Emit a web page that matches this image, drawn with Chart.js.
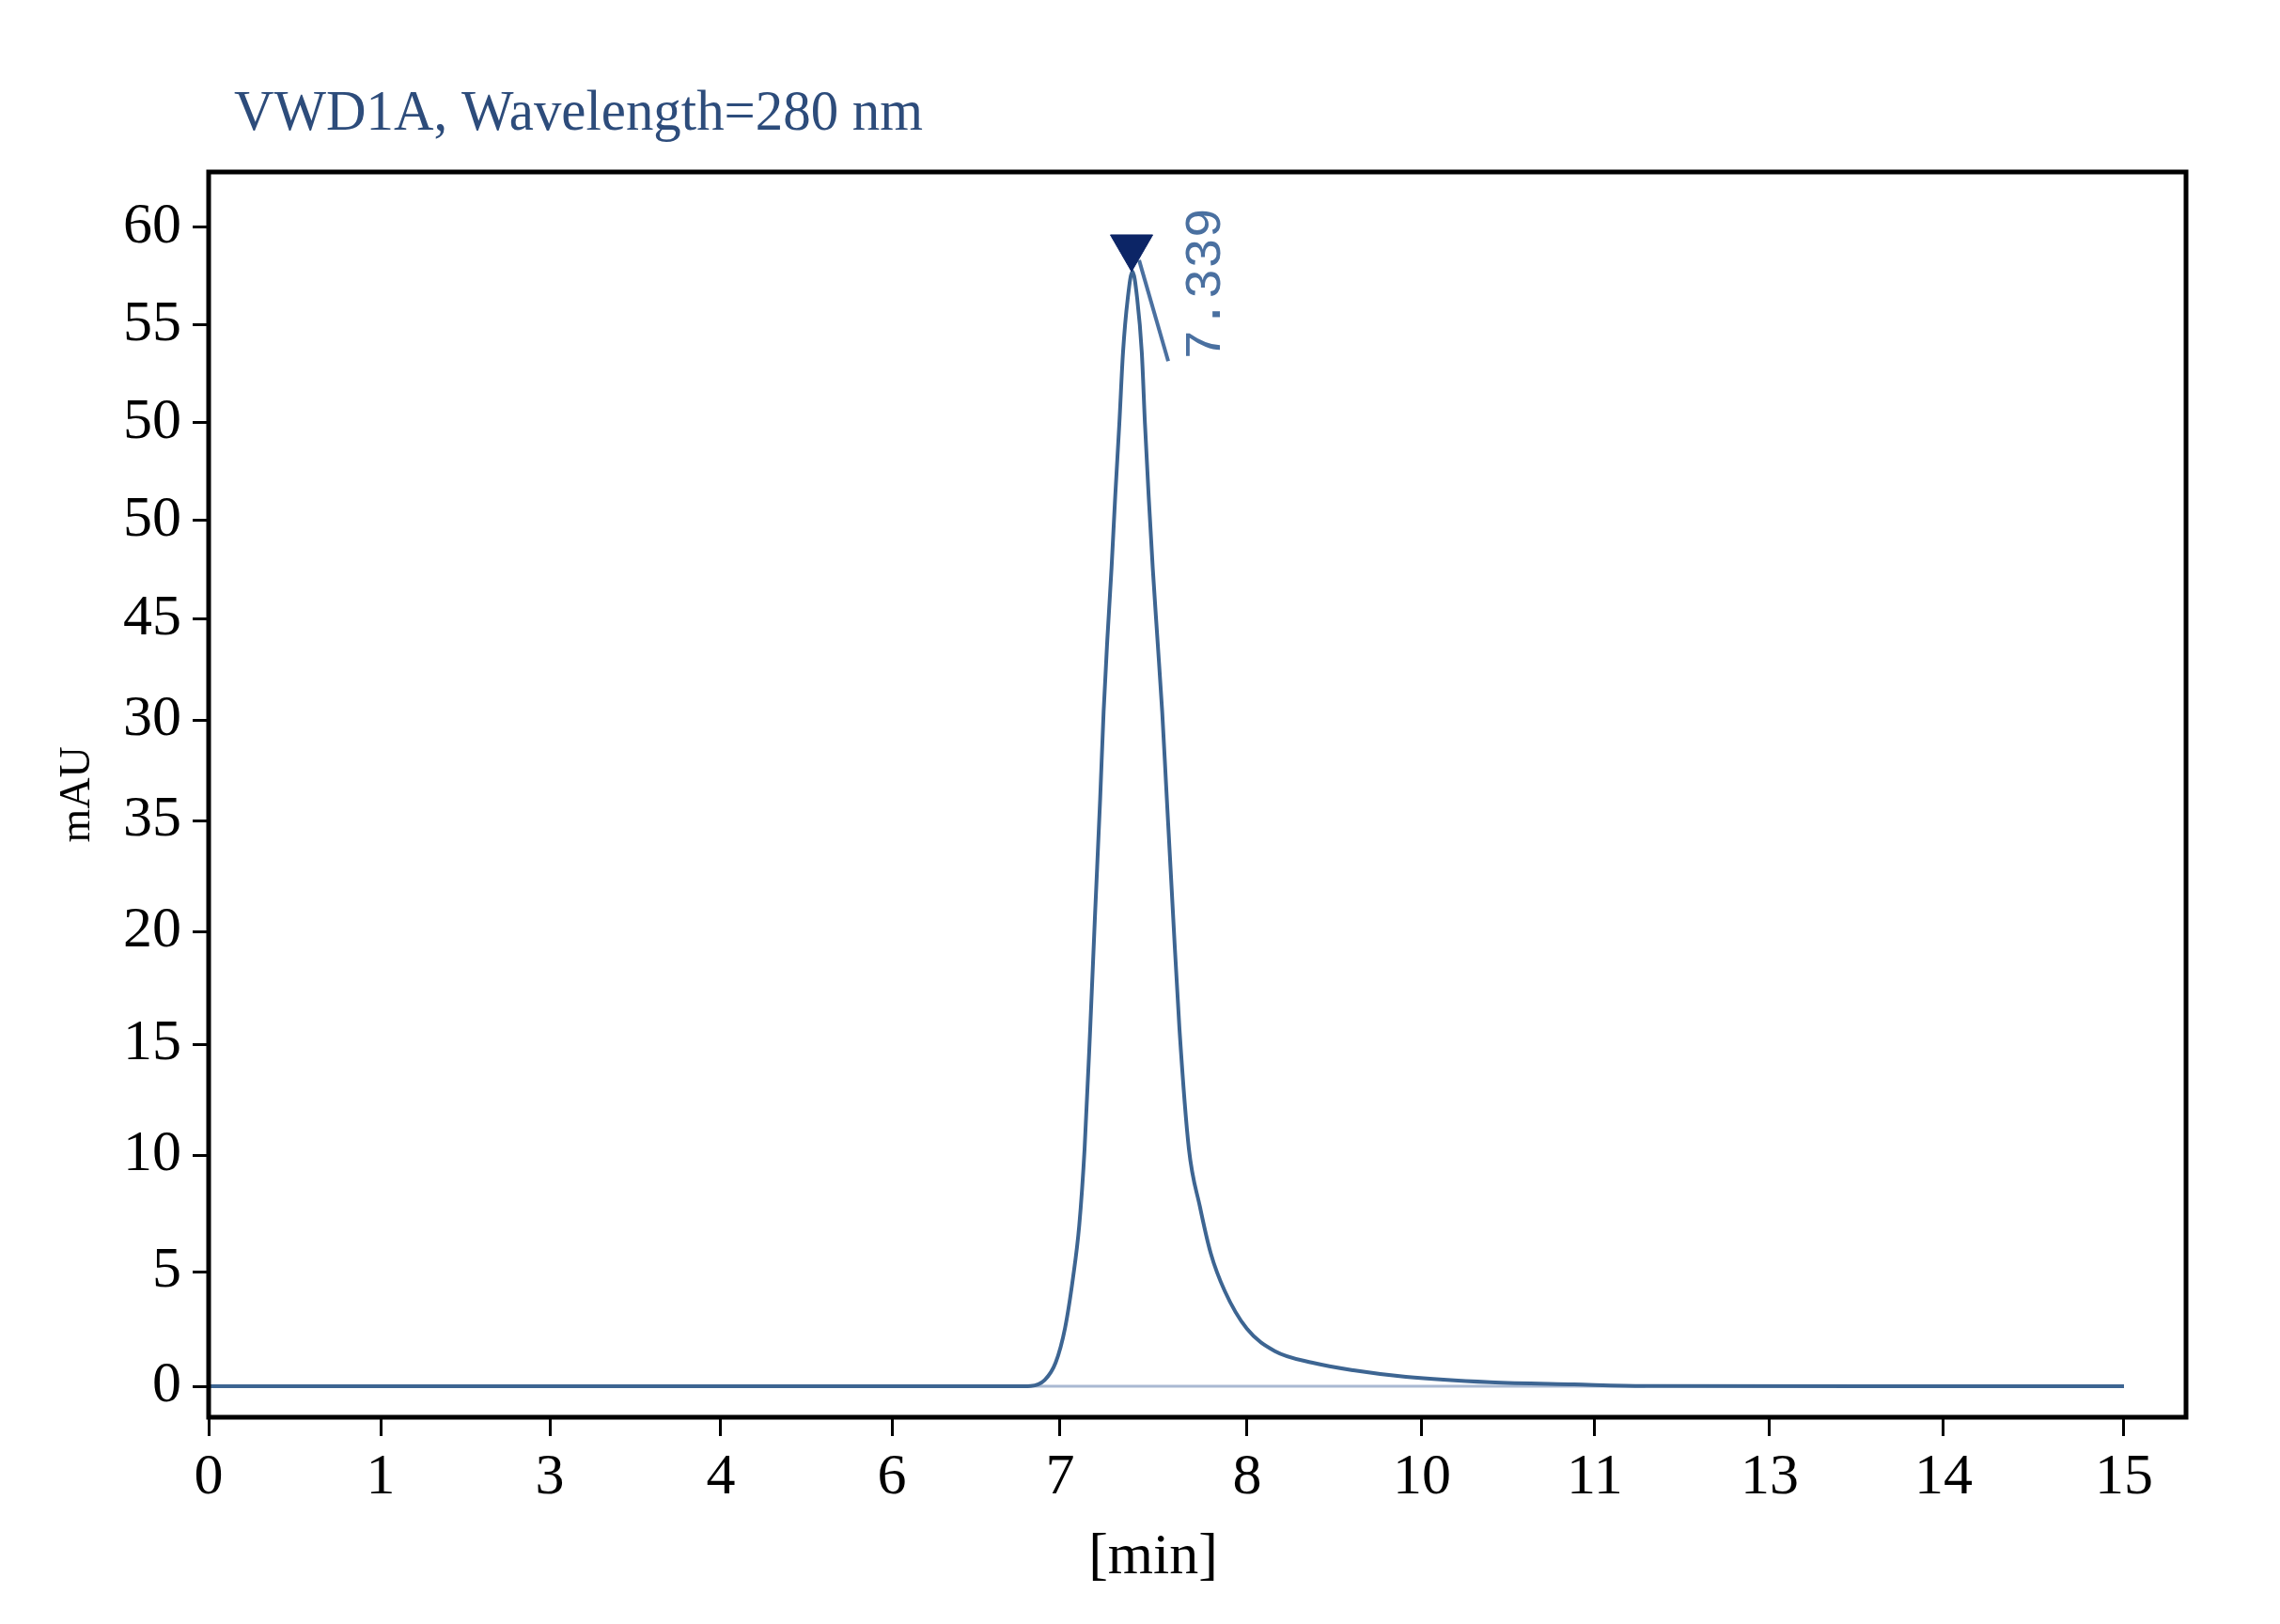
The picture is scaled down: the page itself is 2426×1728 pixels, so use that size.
<!DOCTYPE html>
<html>
<head>
<meta charset="utf-8">
<title>VWD1A, Wavelength=280 nm</title>
<script src="https://cdn.jsdelivr.net/npm/chart.js@4.4.1/dist/chart.umd.min.js"></script>
<style>
  html, body { margin: 0; padding: 0; background: #fff; }
  #wrap { width: 2426px; height: 1728px; }
</style>
</head>
<body>
<div id="wrap"><canvas id="chromChart" width="2426" height="1728"></canvas></div>
<script>
// where each printed tick label sits on the axis, and what it says
var xTickAt = [0, 1.347, 2.672, 4.011, 5.351, 6.668, 8.133, 9.502, 10.856, 12.225, 13.587, 15];
var xTickLabels = ["0", "1", "3", "4", "6", "7", "8", "10", "11", "13", "14", "15"];
var yTickAt = [0, 5.94, 11.97, 17.71, 23.55, 29.29, 34.50, 39.71, 44.84, 49.88, 54.94, 60];
var yTickLabels = ["0", "5", "10", "15", "20", "35", "30", "45", "50", "50", "55", "60"];

// the trace
var retentionTime = [0, 2, 4, 6, 6.315, 6.438, 6.548, 6.633, 6.707, 6.769, 6.818, 6.860, 6.904,
    6.941, 6.982, 7.009, 7.038, 7.071, 7.100, 7.132, 7.161, 7.198, 7.235, 7.272, 7.308, 7.333,
    7.362, 7.394, 7.431, 7.468, 7.498, 7.554, 7.603, 7.677, 7.763, 7.848, 7.958, 8.131, 8.351,
    8.646, 8.965, 9.377, 10.037, 10.694, 11.246, 13, 15];
var absorbance = [0, 0, 0, 0, 0, 0.02, 0.33, 1.22, 3.02, 5.60, 8.32, 12.29, 18.51,
    24.28, 30.41, 34.91, 38.64, 42.36, 46.08, 49.81, 53.53, 56.32, 57.73, 56.32, 53.53, 49.81,
    46.08, 42.36, 38.64, 34.91, 31.19, 24.28, 18.51, 12.29, 9.31, 6.89, 4.93, 2.98, 1.82,
    1.22, 0.83, 0.49, 0.21, 0.10, 0.02, 0, 0];

// integration baseline under the peak
var baselineTime = [6.42, 11.25];
var baselineValue = [0, 0];

// peak marker, its leader line and label
var peakTime = [7.228];
var peakMarker = [58.98];
var leaderTime = [7.287, 7.515];
var leaderValue = [58.3, 53.08];
var peakLabel = "7.339";
var peakLabelAt = [7.816, 57.08];

var chartTitle = "VWD1A, Wavelength=280 nm";
var xTitle = "[min]";

function toPoints(xs, ys) {
    return xs.map(function (x, i) { return { x: x, y: ys[i] }; });
}

// frame, titles and peak label
var decorPlugin = {
    id: 'decor',
    afterDraw: function (chart) {
        var ctx = chart.ctx;
        var a = chart.chartArea;
        ctx.save();
        ctx.strokeStyle = '#000';
        ctx.lineWidth = 5;
        ctx.strokeRect(a.left, a.top, a.right - a.left, a.bottom - a.top);

        // title, squeezed a bit like the original narrow face
        ctx.font = '62px "Liberation Serif"';
        ctx.fillStyle = '#2d4c7b';
        ctx.textBaseline = 'alphabetic';
        ctx.textAlign = 'left';
        var w = ctx.measureText(chartTitle).width;
        ctx.save();
        ctx.translate(a.left + 27, a.top - 45);
        ctx.scale(733 / w, 1);
        ctx.fillText(chartTitle, 0, 0);
        ctx.restore();

        // x axis title sits a little left of centre in the original
        ctx.font = '62px "Liberation Serif"';
        ctx.fillStyle = '#000';
        ctx.textAlign = 'center';
        ctx.textBaseline = 'middle';
        ctx.fillText(xTitle, a.left + 1005, a.bottom + 150);

        // retention time next to the peak
        var px = chart.scales.x.getPixelForValue(peakLabelAt[0]);
        var py = chart.scales.y.getPixelForValue(peakLabelAt[1]);
        ctx.translate(px, py);
        ctx.rotate(-Math.PI / 2);
        ctx.font = '54px "Liberation Mono"';
        ctx.fillStyle = '#4a70a0';
        ctx.fillText(peakLabel, 0, 0);
        ctx.restore();
    }
};

var ctx = document.getElementById('chromChart').getContext('2d');
var chromChart = new Chart(ctx, {
    type: 'scatter',
    data: {
        datasets: [{
            // peak marker
            data: toPoints(peakTime, peakMarker),
            showLine: false,
            pointStyle: 'triangle',
            rotation: 180,
            pointRadius: 26,
            backgroundColor: '#0c2566',
            borderColor: '#0c2566',
            borderWidth: 1
        }, {
            // leader
            data: toPoints(leaderTime, leaderValue),
            showLine: true,
            pointRadius: 0,
            borderColor: '#4a70a0',
            borderWidth: 4
        }, {
            // trace
            data: toPoints(retentionTime, absorbance),
            showLine: true,
            pointRadius: 0,
            borderColor: '#3d6592',
            borderWidth: 4,
            cubicInterpolationMode: 'monotone'
        }, {
            // baseline
            data: toPoints(baselineTime, baselineValue),
            showLine: true,
            pointRadius: 0,
            borderColor: '#a9b9d2',
            borderWidth: 3
        }]
    },
    options: {
        responsive: false,
        animation: false,
        devicePixelRatio: 1,
        layout: { padding: { top: 183, right: 100, left: 0, bottom: 0 } },
        plugins: {
            legend: { display: false },
            tooltip: { enabled: false },
            title: { display: false }
        },
        scales: {
            x: {
                type: 'linear',
                min: 0,
                max: 15.486,
                afterBuildTicks: function (scale) {
                    scale.ticks = xTickAt.map(function (v) { return { value: v }; });
                },
                afterFit: function (scale) { scale.height = 220; },
                border: { display: false },
                grid: {
                    drawOnChartArea: false,
                    drawTicks: true,
                    tickLength: 20,
                    tickWidth: 3,
                    tickColor: '#000'
                },
                ticks: {
                    autoSkip: false,
                    maxRotation: 0,
                    padding: 8,
                    color: '#000',
                    font: { family: '"Liberation Serif"', size: 62 },
                    callback: function (value, index) { return xTickLabels[index]; }
                }
            },
            y: {
                type: 'linear',
                min: -1.6,
                max: 62.87,
                afterBuildTicks: function (scale) {
                    scale.ticks = yTickAt.map(function (v) { return { value: v }; });
                },
                afterFit: function (scale) { scale.width = 222; },
                border: { display: false },
                grid: {
                    drawOnChartArea: false,
                    drawTicks: true,
                    tickLength: 17,
                    tickWidth: 3,
                    tickColor: '#000'
                },
                ticks: {
                    autoSkip: false,
                    padding: 12,
                    color: '#000',
                    font: { family: '"Liberation Serif"', size: 62 },
                    callback: function (value, index) { return yTickLabels[index]; }
                },
                title: {
                    display: true,
                    text: 'mAU',
                    color: '#000',
                    font: { family: '"Liberation Serif"', size: 46 },
                    padding: { top: 55, bottom: 0 }
                }
            }
        }
    },
    plugins: [decorPlugin]
});
</script>
</body>
</html>
